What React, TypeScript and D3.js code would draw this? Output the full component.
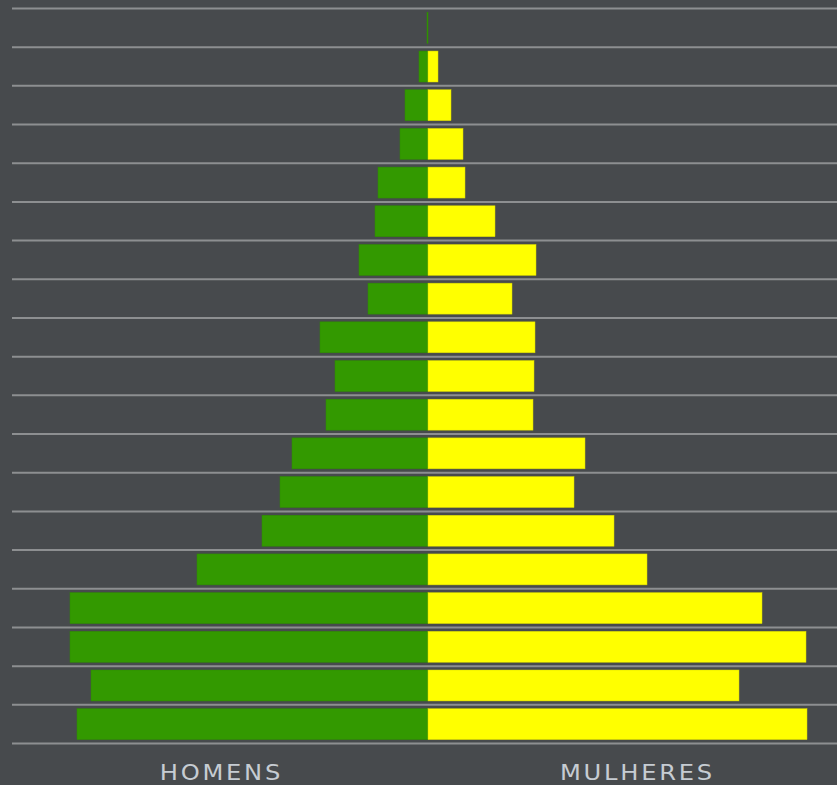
import * as d3 from "d3";

// age groups, oldest on top
const ageGroups = [
  "90+", "85-89", "80-84", "75-79", "70-74", "65-69", "60-64", "55-59", "50-54", "45-49",
  "40-44", "35-39", "30-34", "25-29", "20-24", "15-19", "10-14", "5-9", "0-4",
];
const men = [1, 9, 23, 28, 50, 53, 69, 60, 108, 93, 102, 136, 148, 166, 231, 358, 358, 337, 351];
const women = [0, 10, 23, 35, 37, 67, 108, 84, 107, 106, 105, 157, 146, 186, 219, 334, 378, 311, 379];
const sideLabels = ["HOMENS", "MULHERES"];

const W = 837;
const H = 785;
const center = 428;
const gridLeft = 12;

const App = () => {
  const y = d3.scaleBand<string>().domain(ageGroups).range([8.5, 743.5]).paddingInner(0.2).paddingOuter(0.1);
  const step = y.step();
  const x = d3.scaleLinear().domain([0, 420]).range([0, 420]);

  const gridYs = d3.range(ageGroups.length + 1).map((i) => 8.5 + i * step);
  const labelX = [center - 208, center + 208];

  return (
    <div style={{ position: "absolute", left: 0, top: 0 }}>
      <svg width={W} height={H} style={{ display: "block", background: "#474a4d" }}>
        {gridYs.map((gy, i) => (
          <line key={i} x1={gridLeft} x2={W} y1={gy} y2={gy} stroke="#8d8f91" strokeWidth={2} />
        ))}
        {ageGroups.map((g, i) => (
          <g key={g}>
            <rect
              x={center - x(men[i])}
              y={y(g)}
              width={Math.max(x(men[i]), 0.8)}
              height={y.bandwidth()}
              fill="#339900"
              stroke="#2e8a00"
              strokeWidth={0.5}
            />
            {women[i] > 0 && (
              <rect
                x={center}
                y={y(g)}
                width={x(women[i])}
                height={y.bandwidth()}
                fill="#ffff00"
                stroke="#d6d600"
                strokeWidth={0.5}
              />
            )}
          </g>
        ))}
        {sideLabels.map((t, i) => (
          <text
            key={t}
            transform={`translate(${labelX[i] + 1.4},779.5) scale(1.1,1)`}
            textAnchor="middle"
            fontFamily="DejaVu Sans"
            fontSize={22}
            letterSpacing={2.5}
            fill="#c6ccd2"
          >
            {t}
          </text>
        ))}
      </svg>
    </div>
  );
};

export default App;
